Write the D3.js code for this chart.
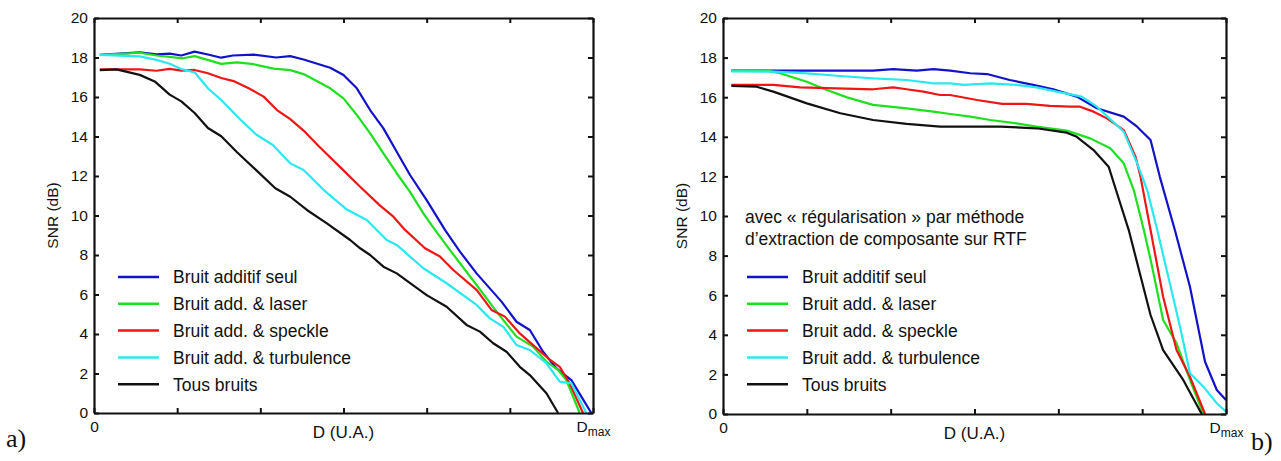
<!DOCTYPE html>
<html>
<head>
<meta charset="utf-8">
<script src="https://cdn.jsdelivr.net/npm/d3@7/dist/d3.min.js"></script>
<style>
  html, body { margin: 0; padding: 0; background: #fff; }
  svg { display: block; }
  text { font-family: "Liberation Sans", Arial, sans-serif; fill: #111; }
</style>
</head>
<body>
<svg id="chart" width="1281" height="461"></svg>
<script>
// ---------- data ----------
const seriesNames = ["Bruit additif seul", "Bruit add. & laser", "Bruit add. & speckle", "Bruit add. & turbulence", "Tous bruits"];
const seriesColors = ["#1212c8", "#1ee01e", "#ee1616", "#2ae8f0", "#111111"];

const yTicks = [0, 2, 4, 6, 8, 10, 12, 14, 16, 18, 20];
const xTicks = [0, 1, 2, 3, 4, 5, 6];
const xTickMain = ["0", "", "", "", "", "", "D"];
const xTickSub  = ["", "", "", "", "", "", "max"];
const xTitle = "D (U.A.)";
const yTitle = "SNR (dB)";
const panelLabels = ["a)", "b)"];
const annotationLines = ["avec « régularisation » par méthode", "d’extraction de composante sur RTF"];

// panel a
const aBlueD   = [0.07,0.55,0.75,0.91,1.05,1.21,1.37,1.53,1.67,1.92,2.19,2.36,2.52,2.84,3.0,3.16,3.32,3.48,3.64,3.8,4.0,4.22,4.4,4.6,4.9,5.08,5.24,5.4,5.56,5.74,5.86,5.98];
const aBlueSNR = [18.13,18.26,18.16,18.2,18.1,18.3,18.15,17.99,18.1,18.15,18.0,18.07,17.9,17.48,17.11,16.44,15.34,14.41,13.23,12.05,10.78,9.27,8.17,7.07,5.64,4.62,4.2,3.1,2.26,1.67,0.83,0];
const aGreenD   = [0.07,0.55,0.75,1.07,1.21,1.53,1.72,1.92,2.16,2.36,2.52,2.84,3.0,3.16,3.32,3.48,3.64,3.8,3.96,4.1,4.28,4.6,4.84,5.08,5.28,5.44,5.58,5.68,5.84];
const aGreenSNR = [18.13,18.24,18.1,17.96,18.07,17.68,17.75,17.66,17.44,17.36,17.16,16.44,15.93,15.09,14.16,13.15,12.14,11.2,10.11,9.27,8.25,6.48,5.13,3.87,3.36,2.6,2.18,1.67,0];
const aRedD   = [0.07,0.55,0.75,0.91,1.05,1.21,1.37,1.53,1.69,1.86,2.04,2.2,2.36,2.52,2.7,2.96,3.2,3.44,3.6,3.74,3.98,4.16,4.32,4.6,4.78,4.94,5.12,5.28,5.46,5.6,5.72,5.88];
const aRedSNR = [17.4,17.4,17.33,17.42,17.34,17.37,17.2,16.96,16.79,16.44,16.02,15.34,14.88,14.3,13.52,12.45,11.46,10.5,9.94,9.27,8.34,7.92,7.24,6.23,5.22,4.88,4.03,3.44,2.77,2.34,1.5,0];
const aCyanD   = [0.07,0.55,0.75,0.91,1.05,1.21,1.37,1.53,1.75,1.95,2.15,2.36,2.52,2.76,3.04,3.28,3.4,3.52,3.64,3.96,4.24,4.6,4.76,4.92,5.08,5.24,5.44,5.6,5.74,5.92];
const aCyanSNR = [18.13,18.06,17.88,17.68,17.42,17.25,16.44,15.85,14.9,14.1,13.57,12.64,12.3,11.3,10.3,9.77,9.27,8.76,8.51,7.33,6.57,5.47,4.79,4.37,3.44,3.19,2.52,1.59,1.5,0];
const aBlackD   = [0.07,0.27,0.55,0.73,0.91,1.05,1.21,1.37,1.53,1.72,1.95,2.18,2.36,2.56,2.8,3.08,3.2,3.32,3.48,3.64,4.0,4.24,4.48,4.64,4.8,4.96,5.12,5.24,5.44,5.58];
const aBlackSNR = [17.36,17.4,17.12,16.79,16.12,15.78,15.19,14.43,14.01,13.2,12.3,11.38,10.95,10.28,9.6,8.76,8.34,8.0,7.41,7.07,5.97,5.38,4.46,4.12,3.53,3.1,2.34,1.92,1.0,0];

// panel b
const bBlueD   = [0.1,1.79,2.03,2.31,2.51,2.71,2.95,3.15,3.42,3.7,3.94,4.22,4.46,4.78,4.94,5.1,5.21,5.39,5.57,5.75,5.89,6.0];
const bBlueSNR = [17.34,17.34,17.42,17.34,17.42,17.34,17.21,17.17,16.87,16.62,16.4,16.03,15.44,15.02,14.51,13.84,11.99,9.29,6.43,2.64,1.21,0.71];
const bGreenD   = [0.1,0.52,0.68,1.0,1.24,1.48,1.79,2.19,2.51,2.71,2.95,3.19,3.5,3.74,4.1,4.38,4.62,4.78,4.9,5.02,5.11,5.25,5.41,5.57,5.73];
const bGreenSNR = [17.34,17.34,17.21,16.78,16.36,15.99,15.61,15.44,15.27,15.15,15.02,14.85,14.68,14.51,14.31,13.92,13.42,12.66,11.31,9.29,7.61,4.75,3.57,1.72,0];
const bRedD   = [0.1,0.6,0.92,1.79,2.03,2.19,2.39,2.59,2.71,3.03,3.33,3.62,3.9,4.14,4.26,4.42,4.58,4.78,4.92,4.98,5.1,5.25,5.41,5.57,5.75];
const bRedSNR = [16.62,16.62,16.5,16.4,16.5,16.4,16.28,16.11,16.11,15.86,15.66,15.66,15.56,15.52,15.52,15.27,14.93,14.34,13.0,11.99,9.29,5.92,3.23,1.88,0];
const bCyanD   = [0.1,0.6,1.0,1.4,1.79,2.19,2.51,2.71,2.87,3.19,3.5,3.74,3.98,4.28,4.46,4.78,4.94,5.06,5.18,5.34,5.46,5.57,5.73,5.89,6.0];
const bCyanSNR = [17.3,17.29,17.2,17.07,16.95,16.87,16.7,16.7,16.62,16.7,16.62,16.5,16.28,16.03,15.52,14.26,12.66,11.31,9.29,6.43,4.24,2.06,1.38,0.54,0.12];
const bBlackD   = [0.1,0.4,0.6,1.0,1.4,1.79,2.19,2.59,2.95,3.31,3.74,4.1,4.22,4.42,4.6,4.7,4.84,5.1,5.25,5.49,5.71];
const bBlackSNR = [16.57,16.53,16.28,15.69,15.19,14.85,14.65,14.51,14.51,14.51,14.43,14.21,14.0,13.33,12.49,11.15,9.29,5.0,3.23,1.72,0];

// ---------- drawing ----------
const svg = d3.select("#chart");
const zip = (xs, ys) => xs.map((d, i) => [d, ys[i]]);

const panels = [
  { left: 94, right: 593, top: 18, bottom: 413,
    series: [zip(aBlueD, aBlueSNR), zip(aGreenD, aGreenSNR), zip(aRedD, aRedSNR), zip(aCyanD, aCyanSNR), zip(aBlackD, aBlackSNR)],
    label: panelLabels[0], labelX: 6, labelY: 447, annotation: false },
  { left: 723, right: 1226, top: 18, bottom: 414,
    series: [zip(bBlueD, bBlueSNR), zip(bGreenD, bGreenSNR), zip(bRedD, bRedSNR), zip(bCyanD, bCyanSNR), zip(bBlackD, bBlackSNR)],
    label: panelLabels[1], labelX: 1251, labelY: 450, annotation: true }
];

panels.forEach(p => {
  const x = d3.scaleLinear().domain([0, 6]).range([p.left, p.right]);
  const y = d3.scaleLinear().domain([0, 20]).range([p.bottom, p.top]);
  const g = svg.append("g");

  // lines
  const line = d3.line().x(d => x(d[0])).y(d => y(d[1]));
  p.series.forEach((s, i) => {
    g.append("path").attr("d", line(s)).attr("fill", "none")
      .attr("stroke", seriesColors[i]).attr("stroke-width", 2.2)
      .attr("stroke-linejoin", "round");
  });

  // axes
  const styleAxis = sel => {
    sel.select(".domain").attr("stroke", "#111").attr("stroke-width", 2.2);
    sel.selectAll(".tick line").attr("stroke", "#111").attr("stroke-width", 2);
  };
  g.append("g").attr("transform", `translate(${p.left},0)`)
    .call(d3.axisLeft(y).tickValues(yTicks).tickSize(-5).tickSizeOuter(0).tickPadding(6))
    .call(styleAxis)
    .call(a => a.selectAll("text").style("font-size", "15.5px").attr("fill", "#111")
      .style("font-family", '"Liberation Sans", Arial, sans-serif'));
  g.append("g").attr("transform", `translate(${p.right},0)`)
    .call(d3.axisRight(y).tickValues(yTicks).tickSize(-5).tickSizeOuter(0).tickFormat(""))
    .call(styleAxis);
  g.append("g").attr("transform", `translate(0,${p.top})`)
    .call(d3.axisTop(x).tickValues(xTicks).tickSize(-5).tickSizeOuter(0).tickFormat(""))
    .call(styleAxis);
  const xb = g.append("g").attr("transform", `translate(0,${p.bottom})`)
    .call(d3.axisBottom(x).tickValues(xTicks).tickSize(-5).tickSizeOuter(0).tickFormat("").tickPadding(8))
    .call(styleAxis);
  xb.selectAll(".tick text").each(function(d, i) {
    const t = d3.select(this).style("font-size", "15.5px").attr("fill", "#111")
      .style("font-family", '"Liberation Sans", Arial, sans-serif');
    t.text(null);
    t.append("tspan").text(xTickMain[i]);
    if (xTickSub[i]) {
      t.append("tspan").text(xTickSub[i]).style("font-size", "12px").attr("dy", "0.35em");
    }
  });

  // axis titles
  g.append("text").attr("x", (p.left + p.right) / 2).attr("y", p.bottom + 25)
    .attr("text-anchor", "middle").style("font-size", "17px").text(xTitle);
  g.append("text").attr("transform", `translate(${p.left - 36},${(p.top + p.bottom) / 2}) rotate(-90)`)
    .attr("text-anchor", "middle").style("font-size", "15.5px").text(yTitle);

  // annotation
  if (p.annotation) {
    annotationLines.forEach((l, i) => {
      g.append("text").attr("x", p.left + 22).attr("y", 223 + i * 22)
        .style("font-size", "17.5px").text(l);
    });
  }

  // legend
  const lg = g.append("g");
  seriesNames.forEach((n, i) => {
    const ly = 277 + i * 26.8;
    lg.append("line").attr("x1", p.left + 24).attr("x2", p.left + 65)
      .attr("y1", ly).attr("y2", ly).attr("stroke", seriesColors[i]).attr("stroke-width", 2.5);
    lg.append("text").attr("x", p.left + 79).attr("y", ly).attr("dy", "0.36em")
      .style("font-size", "17.5px").text(n);
  });

  // panel label
  svg.append("text").attr("x", p.labelX).attr("y", p.labelY)
    .style("font-family", '"Liberation Serif", "Times New Roman", serif')
    .style("font-size", "26px").text(p.label);
});
</script>
</body>
</html>
